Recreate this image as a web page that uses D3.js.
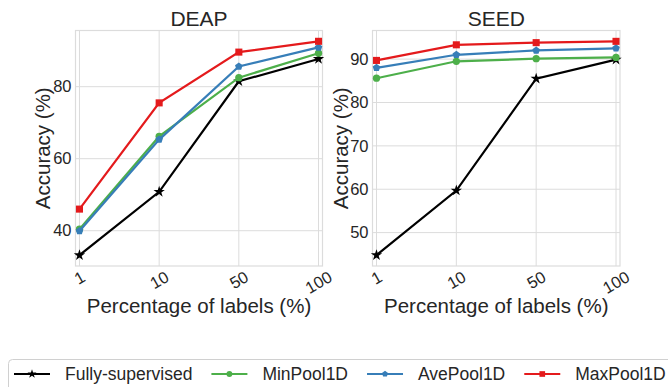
<!DOCTYPE html>
<html><head><meta charset="utf-8">
<script src="https://cdn.jsdelivr.net/npm/d3@7"></script>
<style>body{margin:0;background:#fff}svg{display:block}text{font-family:"Liberation Sans",Arial,sans-serif;fill:#262626}</style>
</head><body><svg id="c" width="668" height="387"></svg>
<script>
const categories = ["1","10","50","100"];
const seriesNames = ["Fully-supervised","MinPool1D","AvePool1D","MaxPool1D"];
const seriesColors = ["#000000","#4daf4a","#377eb8","#e41a1c"];
const seriesMarkers = ["star","circle","pentagon","square"];
const deapFully = [33.2, 50.8, 81.5, 87.7];
const deapMin   = [40.4, 66.2, 82.5, 89.3];
const deapAve   = [39.9, 65.3, 85.6, 90.9];
const deapMax   = [46.0, 75.5, 89.6, 92.6];
const seedFully = [44.8, 59.7, 85.5, 89.9];
const seedMin   = [85.6, 89.5, 90.1, 90.4];
const seedAve   = [88.0, 91.0, 92.0, 92.5];
const seedMax   = [89.7, 93.3, 93.8, 94.1];
const deapTicks = [40, 60, 80];
const seedTicks = [50, 60, 70, 80, 90];

const svg = d3.select("#c");
const grid = "#dcdcdc";

function markerPath(type, scale){
  if(type === "pentagon"){
    const r = 4 * scale;
    const pts = d3.range(5).map(i => { const a = -Math.PI/2 + i*2*Math.PI/5; return [r*Math.cos(a), r*Math.sin(a)]; });
    return "M" + pts.map(p => p.join(",")).join("L") + "Z";
  }
  const map = {star: d3.symbolStar, circle: d3.symbolCircle, square: d3.symbolSquare};
  const areas = {star: 40, circle: 42, square: 50};
  return d3.symbol().type(map[type]).size(areas[type] * scale * scale)();
}

function panel(opts){
  const g = svg.append("g");
  const x = d3.scalePoint().domain(categories).range([opts.x0, opts.x1]).padding(0.05);
  const y = d3.scaleLinear().domain(opts.ydom).range([opts.y1, opts.y0]);
  g.selectAll(".vg").data(categories).enter().append("line")
    .attr("x1", d => x(d)).attr("x2", d => x(d)).attr("y1", opts.y0).attr("y2", opts.y1)
    .attr("stroke", grid).attr("stroke-width", 1);
  g.selectAll(".hg").data(opts.ticks).enter().append("line")
    .attr("x1", opts.x0).attr("x2", opts.x1).attr("y1", d => y(d)).attr("y2", d => y(d))
    .attr("stroke", grid).attr("stroke-width", 1);
  g.append("rect").attr("x", opts.x0).attr("y", opts.y0).attr("width", opts.x1-opts.x0).attr("height", opts.y1-opts.y0)
    .attr("fill", "none").attr("stroke", grid).attr("stroke-width", 1.2);
  const ya = d3.axisLeft(y).tickValues(opts.ticks).tickSize(0).tickPadding(4);
  const yg = g.append("g").attr("transform", `translate(${opts.x0},0)`).call(ya);
  yg.select(".domain").remove();
  yg.selectAll("text").style("font-size", "16.5px").attr("fill", "#262626");
  const xa = d3.axisBottom(x).tickSize(0).tickFormat(() => "");
  const xg = g.append("g").attr("transform", `translate(0,${opts.y1})`).call(xa);
  xg.select(".domain").remove();
  categories.forEach(c => {
    const t = g.append("text").text(c).style("font-size", "16.5px")
      .attr("text-anchor", "middle").attr("dominant-baseline", "central");
    const w = t.node().getComputedTextLength();
    const h = 12;
    const a = Math.PI/6;
    const hh = (w*Math.sin(a) + h*Math.cos(a))/2;
    t.attr("transform", `translate(${x(c)},${opts.y1 + 4 + hh}) rotate(-30)`);
  });
  const cx = (opts.x0 + opts.x1)/2, cy = (opts.y0 + opts.y1)/2;
  g.append("text").text(opts.title).attr("x", cx).attr("y", 26).attr("text-anchor", "middle").style("font-size", "21px");
  g.append("text").text("Percentage of labels (%)").attr("x", cx).attr("y", 313).attr("text-anchor", "middle").style("font-size", "20.5px");
  g.append("text").text("Accuracy (%)").attr("text-anchor", "middle")
    .attr("transform", `translate(${opts.ylabX},${cy}) rotate(-90)`).style("font-size", "20.5px");
  const line = d3.line().x((d,i) => x(categories[i])).y(d => y(d));
  opts.series.forEach((s, k) => {
    g.append("path").datum(s).attr("d", line).attr("fill", "none")
      .attr("stroke", seriesColors[k]).attr("stroke-width", 2.2);
    g.selectAll(null).data(s).enter().append("path")
      .attr("d", markerPath(seriesMarkers[k], 1))
      .attr("transform", (d,i) => `translate(${x(categories[i])},${y(d)})`)
      .attr("fill", seriesColors[k]);
  });
}

panel({x0: 75.5, x1: 322.5, y0: 30.5, y1: 266, ydom: [30.2, 95.6], ticks: deapTicks, title: "DEAP", ylabX: 50,
  series: [deapFully, deapMin, deapAve, deapMax]});
panel({x0: 372.5, x1: 620, y0: 30.5, y1: 266, ydom: [42.3, 96.6], ticks: seedTicks, title: "SEED", ylabX: 348,
  series: [seedFully, seedMin, seedAve, seedMax]});

const lg = svg.append("g");
lg.append("rect").attr("x", 8.5).attr("y", 359.5).attr("width", 680).attr("height", 60).attr("rx", 4)
  .attr("fill", "#fff").attr("stroke", "#d0d0d0").attr("stroke-width", 1);
let lx = 14;
const ly = 374;
seriesNames.forEach((n, k) => {
  lg.append("line").attr("x1", lx).attr("x2", lx + 36).attr("y1", ly).attr("y2", ly)
    .attr("stroke", seriesColors[k]).attr("stroke-width", 2.2);
  lg.append("path").attr("d", markerPath(seriesMarkers[k], 0.8)).attr("transform", `translate(${lx+18},${ly})`)
    .attr("fill", seriesColors[k]);
  const t = lg.append("text").text(n).attr("x", lx + 51).attr("y", ly).attr("dominant-baseline", "central")
    .style("font-size", "17.5px");
  lx += 51 + t.node().getComputedTextLength() + 19;
});
</script></body></html>
